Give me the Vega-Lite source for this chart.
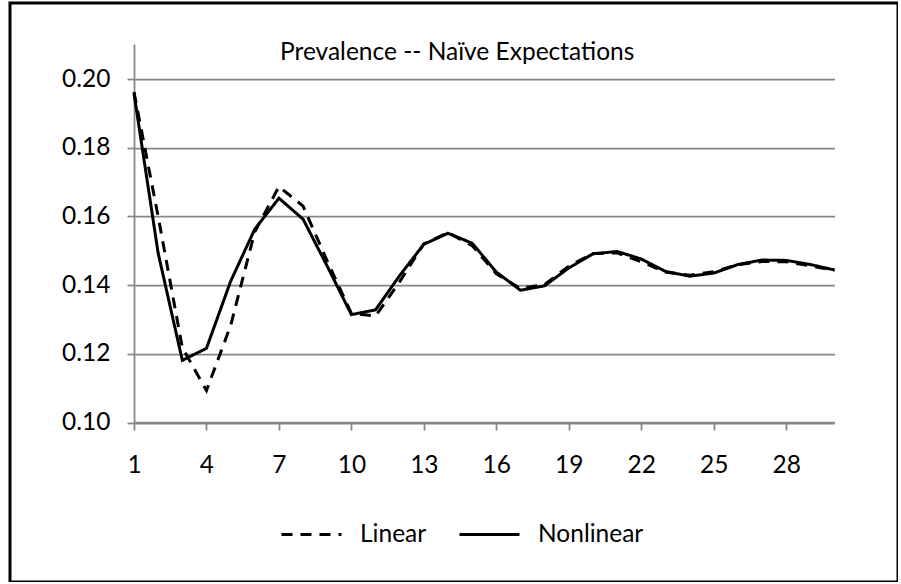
{
  "$schema": "https://vega.github.io/schema/vega-lite/v6.json",
  "autosize": {"type": "none"},
  "padding": {"left": 10, "top": 3, "right": 0, "bottom": 0},
  "width": 888,
  "height": 579,
  "background": "white",
  "config": {
    "view": {"stroke": "black", "strokeWidth": 3},
    "font": "Lato",
    "axis": {"labelFont": "Lato", "labelColor": "black", "labelFontSize": 24.5, "domainColor": "#868686", "tickColor": "#868686", "gridColor": "#868686", "domainWidth": 1.75, "tickWidth": 1.75, "gridWidth": 1.75, "title": null},
    "legend": {"labelFont": "Lato", "labelFontSize": 24.5, "labelColor": "black"}
  },
  "title": {
    "text": "Prevalence -- Naïve Expectations",
    "font": "Lato",
    "fontSize": 24.5,
    "fontWeight": "normal",
    "color": "black",
    "anchor": "start",
    "frame": "group",
    "baseline": "alphabetic",
    "offset": 0,
    "dx": 270,
    "dy": 81
  },
  "data": {
    "values": [
      {"t": 1, "series": "Linear", "v": 0.1962},
      {"t": 2, "series": "Linear", "v": 0.1600},
      {"t": 3, "series": "Linear", "v": 0.1218},
      {"t": 4, "series": "Linear", "v": 0.1093},
      {"t": 5, "series": "Linear", "v": 0.1282},
      {"t": 6, "series": "Linear", "v": 0.1555},
      {"t": 7, "series": "Linear", "v": 0.1687},
      {"t": 8, "series": "Linear", "v": 0.1630},
      {"t": 9, "series": "Linear", "v": 0.1470},
      {"t": 10, "series": "Linear", "v": 0.1318},
      {"t": 11, "series": "Linear", "v": 0.1310},
      {"t": 12, "series": "Linear", "v": 0.1410},
      {"t": 13, "series": "Linear", "v": 0.1520},
      {"t": 14, "series": "Linear", "v": 0.1553},
      {"t": 15, "series": "Linear", "v": 0.1515},
      {"t": 16, "series": "Linear", "v": 0.1433},
      {"t": 17, "series": "Linear", "v": 0.1390},
      {"t": 18, "series": "Linear", "v": 0.1402},
      {"t": 19, "series": "Linear", "v": 0.1455},
      {"t": 20, "series": "Linear", "v": 0.1492},
      {"t": 21, "series": "Linear", "v": 0.1494},
      {"t": 22, "series": "Linear", "v": 0.1468},
      {"t": 23, "series": "Linear", "v": 0.1438},
      {"t": 24, "series": "Linear", "v": 0.1429},
      {"t": 25, "series": "Linear", "v": 0.1439},
      {"t": 26, "series": "Linear", "v": 0.1459},
      {"t": 27, "series": "Linear", "v": 0.1469},
      {"t": 28, "series": "Linear", "v": 0.1468},
      {"t": 29, "series": "Linear", "v": 0.1456},
      {"t": 30, "series": "Linear", "v": 0.1443},
      {"t": 1, "series": "Nonlinear", "v": 0.1958},
      {"t": 2, "series": "Nonlinear", "v": 0.1493},
      {"t": 3, "series": "Nonlinear", "v": 0.1181},
      {"t": 4, "series": "Nonlinear", "v": 0.1216},
      {"t": 5, "series": "Nonlinear", "v": 0.1411},
      {"t": 6, "series": "Nonlinear", "v": 0.1563},
      {"t": 7, "series": "Nonlinear", "v": 0.1653},
      {"t": 8, "series": "Nonlinear", "v": 0.1592},
      {"t": 9, "series": "Nonlinear", "v": 0.1455},
      {"t": 10, "series": "Nonlinear", "v": 0.1314},
      {"t": 11, "series": "Nonlinear", "v": 0.1328},
      {"t": 12, "series": "Nonlinear", "v": 0.1428},
      {"t": 13, "series": "Nonlinear", "v": 0.1519},
      {"t": 14, "series": "Nonlinear", "v": 0.1551},
      {"t": 15, "series": "Nonlinear", "v": 0.1522},
      {"t": 16, "series": "Nonlinear", "v": 0.1438},
      {"t": 17, "series": "Nonlinear", "v": 0.1385},
      {"t": 18, "series": "Nonlinear", "v": 0.1398},
      {"t": 19, "series": "Nonlinear", "v": 0.1450},
      {"t": 20, "series": "Nonlinear", "v": 0.1491},
      {"t": 21, "series": "Nonlinear", "v": 0.1498},
      {"t": 22, "series": "Nonlinear", "v": 0.1476},
      {"t": 23, "series": "Nonlinear", "v": 0.1440},
      {"t": 24, "series": "Nonlinear", "v": 0.1426},
      {"t": 25, "series": "Nonlinear", "v": 0.1435},
      {"t": 26, "series": "Nonlinear", "v": 0.1460},
      {"t": 27, "series": "Nonlinear", "v": 0.1473},
      {"t": 28, "series": "Nonlinear", "v": 0.1472},
      {"t": 29, "series": "Nonlinear", "v": 0.1460},
      {"t": 30, "series": "Nonlinear", "v": 0.1444}
    ]
  },
  "mark": {"type": "line", "color": "black", "strokeWidth": 3, "strokeJoin": "miter", "clip": false},
  "encoding": {
    "x": {
      "field": "t", "type": "quantitative",
      "scale": {"domain": [1, 30], "range": [124, 824.5], "nice": false, "zero": false},
      "axis": {"orient": "bottom", "offset": -160, "values": [1, 4, 7, 10, 13, 16, 19, 22, 25, 28], "format": "d", "grid": false, "tickSize": 8, "labelPadding": 23, "labelFlush": false, "labelOverlap": false}
    },
    "y": {
      "field": "v", "type": "quantitative",
      "scale": {"domain": [0.1, 0.2102], "range": [419.5, 41], "nice": false, "zero": false},
      "axis": {"orient": "left", "offset": -124, "values": [0.1, 0.12, 0.14, 0.16, 0.18, 0.2], "format": ".2f", "grid": true, "tickSize": 7, "labelPadding": 17, "labelFlush": false, "labelOverlap": false}
    },
    "strokeDash": {
      "field": "series", "type": "nominal",
      "scale": {"domain": ["Linear", "Nonlinear"], "range": [[11, 8], [1, 0]]},
      "legend": {"title": null, "orient": "none", "direction": "horizontal", "legendX": 270, "legendY": 500, "symbolType": "stroke", "symbolSize": 3600, "symbolStrokeWidth": 3, "symbolStrokeColor": "black", "labelOffset": 17, "columnPadding": 26}
    },
    "order": {"field": "t", "type": "quantitative"}
  }
}
